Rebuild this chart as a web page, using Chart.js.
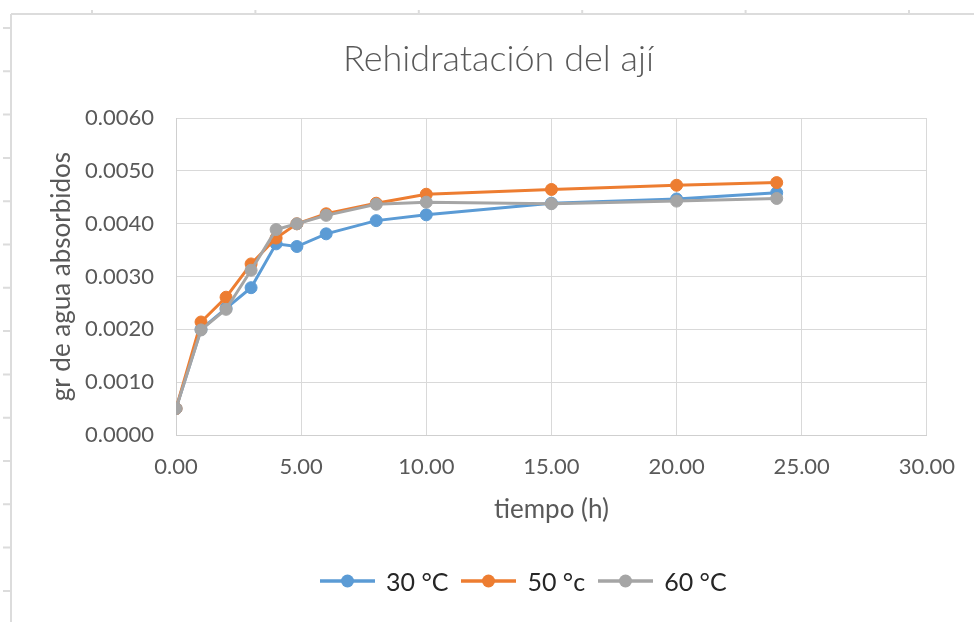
<!DOCTYPE html>
<html>
<head>
<meta charset="utf-8">
<script src="https://cdn.jsdelivr.net/npm/chart.js@4.4.1/dist/chart.umd.min.js"></script>
<style>
  html, body { margin: 0; padding: 0; background: #fff; }
  #wrap { position: relative; width: 974px; height: 622px; }
  #leyenda {
    position: absolute; left: 320px; top: 566px; height: 30px;
    display: flex; align-items: center;
    font-family: Lato, "Open Sans", sans-serif; font-size: 25px; color: #262626;
  }
  #leyenda .item { display: flex; align-items: center; margin-right: 13px; }
  #leyenda canvas { margin-right: 11px; }
</style>
</head>
<body>
<div id="wrap">
  <canvas id="chart" width="974" height="622"></canvas>
  <div id="leyenda"></div>
</div>
<script>
// tiempo (h)
const tiempo = [0, 1, 2, 3, 4, 4.83, 6, 8, 10, 15, 20, 24];
// gr de agua absorbidos por temperatura
const agua30 = [0.0005, 0.00200, 0.00240, 0.00279, 0.00362, 0.00357, 0.00381, 0.00406, 0.00417, 0.00439, 0.00447, 0.00459];
const agua50 = [0.0005, 0.00214, 0.00261, 0.00324, 0.00373, 0.00400, 0.00419, 0.00439, 0.00456, 0.00465, 0.00473, 0.00478];
const agua60 = [0.0005, 0.00199, 0.00238, 0.00312, 0.00389, 0.00400, 0.00416, 0.00437, 0.00441, 0.00438, 0.00443, 0.00448];
const etiquetas = ['30 °C', '50 °c', '60 °C'];
const colores = ['#5B9BD5', '#ED7D31', '#A5A5A5'];

const FONT = 'Lato, "Open Sans", sans-serif';

function puntos(ys) {
  return tiempo.map((t, i) => ({ x: t, y: ys[i] }));
}

// legend swatch: short line with a dot in the middle
function muestra(color) {
  const c = document.createElement('canvas');
  c.width = 55; c.height = 16;
  const g = c.getContext('2d');
  g.strokeStyle = color;
  g.lineWidth = 3.5;
  g.beginPath(); g.moveTo(0, 8); g.lineTo(55, 8); g.stroke();
  g.fillStyle = color;
  g.beginPath(); g.arc(27.5, 8, 6.5, 0, Math.PI * 2); g.fill();
  return c;
}

// worksheet frame behind the chart
const marco = {
  id: 'marco',
  beforeDraw(chart) {
    const ctx = chart.ctx;
    ctx.save();
    ctx.strokeStyle = '#dcdcdc';
    ctx.lineWidth = 2;
    ctx.beginPath();
    ctx.moveTo(11, 14); ctx.lineTo(11, 622);
    ctx.moveTo(11, 14); ctx.lineTo(974, 14);
    for (let y = 28; y < 622; y += 43.3) { ctx.moveTo(3, y); ctx.lineTo(11, y); }
    for (let x = 92; x < 974; x += 163.4) { ctx.moveTo(x, 10); ctx.lineTo(x, 14); }
    ctx.stroke();
    ctx.restore();
  }
};

// legend built from the chart's datasets
const leyendaHtml = {
  id: 'leyendaHtml',
  afterUpdate(chart) {
    const box = document.getElementById('leyenda');
    box.innerHTML = '';
    chart.data.datasets.forEach(d => {
      const item = document.createElement('div');
      item.className = 'item';
      item.appendChild(muestra(d.borderColor));
      const txt = document.createElement('span');
      txt.textContent = d.label;
      item.appendChild(txt);
      box.appendChild(item);
    });
  }
};

const datasets = [agua30, agua50, agua60].map((ys, i) => ({
  label: etiquetas[i],
  data: puntos(ys),
  borderColor: colores[i],
  backgroundColor: colores[i],
  borderWidth: 3,
  pointRadius: 6,
  pointBorderWidth: 1,
  pointHoverRadius: 6,
  pointStyle: 'circle',
  showLine: true,
  tension: 0,
  order: 3 - i
}));

new Chart(document.getElementById('chart'), {
  type: 'scatter',
  data: { datasets: datasets },
  options: {
    responsive: false,
    animation: false,
    layout: { padding: { left: 65, right: 42, top: 0, bottom: 97 } },
    plugins: {
      title: {
        display: true,
        text: 'Rehidratación del ají',
        color: '#595959',
        font: { family: FONT, size: 36, weight: '300' },
        padding: { top: 38, bottom: 37 }
      },
      legend: { display: false },
      tooltip: { enabled: false }
    },
    scales: {
      x: {
        type: 'linear',
        min: 0, max: 30,
        afterFit(s) { s.height = 90; },
        ticks: {
          stepSize: 5,
          padding: 19,
          color: '#595959',
          font: { family: FONT, size: 22 },
          callback: v => v.toFixed(2)
        },
        grid: { color: '#d9d9d9', lineWidth: 1, drawTicks: false },
        border: { color: '#cfcfcf', width: 1 },
        title: {
          display: true,
          text: 'tiempo (h)',
          color: '#595959',
          font: { family: FONT, size: 26 },
          padding: { top: 0, bottom: 0 }
        }
      },
      y: {
        min: 0, max: 0.006,
        afterFit(s) { s.width = 111; },
        ticks: {
          stepSize: 0.001,
          padding: 22,
          color: '#595959',
          font: { family: FONT, size: 22 },
          callback: v => v.toFixed(4)
        },
        grid: { color: '#d9d9d9', lineWidth: 1, drawTicks: false },
        border: { color: '#cfcfcf', width: 1 },
        title: {
          display: true,
          text: 'gr de agua absorbidos',
          color: '#595959',
          font: { family: FONT, size: 26 },
          padding: { top: -19, bottom: 0 }
        }
      }
    }
  },
  plugins: [marco, leyendaHtml]
});
</script>
</body>
</html>
